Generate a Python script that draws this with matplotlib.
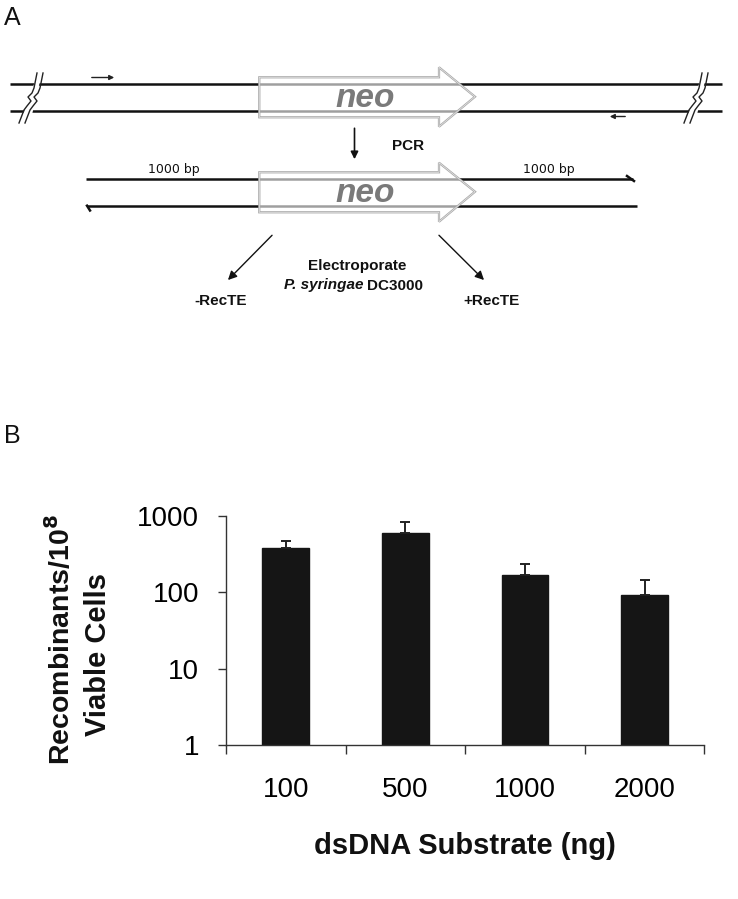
import matplotlib
matplotlib.use("Agg")
import matplotlib.pyplot as plt
from matplotlib.patches import Polygon
import numpy as np

# ---------------- data ----------------
substrate_labels = ["100", "500", "1000", "2000"]
recombinants = [374, 599, 166, 92]
recombinants_err = [93, 228, 67, 52]
y_ticks = [1, 10, 100, 1000]
y_tick_labels = ["1", "10", "100", "1000"]

W, H = 738, 899
fig = plt.figure(figsize=(W / 100, H / 100), dpi=100)
FONT = "Liberation Sans"

# ---------------- panel A: schematic (pixel coordinates) ----------------
ax0 = fig.add_axes([0, 0, 1, 1], zorder=0)
ax0.set_xlim(0, W)
ax0.set_ylim(H, 0)
ax0.axis("off")

strand_lw = 1.8
for y in (84, 111):
    ax0.plot([10, 722], [y, y], color="#111111", lw=strand_lw, solid_capstyle="butt", zorder=2)


def break_mark(x0):
    for dx in (0, 6):
        xs = np.array([9, 6, 4, 0, 3, -1, -4, -9]) + x0 + dx
        ys = np.array([73, 88, 93, 97, 101, 106, 110, 123])
        ax0.plot(xs, ys, color="#222222", lw=1.0, zorder=3)
    poly = Polygon([[x0 + 10, 73], [x0 + 14, 73], [x0 + 2, 123], [x0 - 8, 123]],
                   closed=True, facecolor="white", edgecolor="none", zorder=2.5)
    ax0.add_patch(poly)


break_mark(28)
break_mark(693)

ax0.annotate("", xy=(117, 77.5), xytext=(89, 77.5),
             arrowprops=dict(arrowstyle="-|>", lw=1.0, color="#222222", mutation_scale=7))
ax0.annotate("", xy=(607, 116.5), xytext=(628, 116.5),
             arrowprops=dict(arrowstyle="-|>", lw=1.0, color="#222222", mutation_scale=7))


def neo_arrow(top, bottom, head_top, tip_y, head_bottom):
    pts = [[259.3, top], [439, top], [439, head_top], [475, tip_y],
           [439, head_bottom], [439, bottom], [259.3, bottom]]
    ax0.add_patch(Polygon(pts, closed=True, facecolor="white", alpha=0.6,
                          edgecolor="none", zorder=4))
    ax0.add_patch(Polygon(pts, closed=True, facecolor="none",
                          edgecolor="#a8a8a8", lw=1.6, zorder=5))
    ax0.add_patch(Polygon(pts, closed=True, facecolor="none",
                          edgecolor="#e8e8e8", lw=0.5, zorder=5.1))
    ax0.text(365, (top + bottom) / 2 + 1, "neo", ha="center", va="center",
             fontsize=24, fontweight="bold", style="italic", color="#7a7a7a",
             family=FONT, zorder=6)


neo_arrow(77.3, 117.3, 67.3, 96.7, 126.7)

ax0.annotate("", xy=(354.5, 162), xytext=(354.5, 125.5),
             arrowprops=dict(arrowstyle="-|>", lw=1.2, color="#111111", mutation_scale=11))
ax0.text(408, 146, "PCR", ha="center", va="center", fontsize=11,
         fontweight="bold", family=FONT, color="#111111")

ax0.plot([86, 633], [178.5, 178.5], color="#111111", lw=strand_lw, solid_capstyle="butt", zorder=2)
ax0.plot([87, 637], [205.7, 205.7], color="#111111", lw=strand_lw, solid_capstyle="butt", zorder=2)
ax0.plot([627, 634], [176, 181], color="#111111", lw=strand_lw, zorder=2)
ax0.plot([87, 90], [205.7, 210.5], color="#111111", lw=strand_lw, zorder=2)
neo_arrow(172.3, 212.3, 162.7, 191.7, 221.7)
ax0.text(174, 170, "1000 bp", ha="center", va="center", fontsize=9,
         family="DejaVu Sans", color="#111111")
ax0.text(549, 170, "1000 bp", ha="center", va="center", fontsize=9,
         family="DejaVu Sans", color="#111111")

ax0.annotate("", xy=(226, 282), xytext=(274, 233.3),
             arrowprops=dict(arrowstyle="-|>", lw=1.0, color="#111111", mutation_scale=13))
ax0.annotate("", xy=(486, 282), xytext=(437, 233.3),
             arrowprops=dict(arrowstyle="-|>", lw=1.0, color="#111111", mutation_scale=13))
ax0.text(357, 265.7, "Electroporate", ha="center", va="center", fontsize=11,
         fontweight="bold", family=FONT, color="#111111")
ax0.text(363, 285.5, "P. syringae", ha="right", va="center", fontsize=11,
         fontweight="bold", style="italic", family=FONT, color="#111111")
ax0.text(367, 285.5, "DC3000", ha="left", va="center", fontsize=11,
         fontweight="bold", family=FONT, color="#111111")
ax0.text(221, 301, "-RecTE", ha="center", va="center", fontsize=11,
         fontweight="bold", family=FONT, color="#111111")
ax0.text(491, 301, "+RecTE", ha="center", va="center", fontsize=11,
         fontweight="bold", family=FONT, color="#111111")

ax0.text(4, 18, "A", ha="left", va="center", fontsize=18, family=FONT, color="#111111")
ax0.text(4, 436, "B", ha="left", va="center", fontsize=18, family=FONT, color="#111111")

# ---------------- panel B: bar chart ----------------
left, right, bottom, top = 226, 704.3, 745, 515.7
ax = fig.add_axes([left / W, 1 - bottom / H, (right - left) / W, (bottom - top) / H], zorder=1)
ax.patch.set_alpha(0)
x = np.arange(len(substrate_labels))
ax.bar(x, recombinants, width=0.39, color="#151515", edgecolor="#151515", zorder=2)
ax.errorbar(x, recombinants, yerr=[np.zeros(len(x)), recombinants_err], fmt="none",
            ecolor="#222222", elinewidth=1.4, capsize=3.6, capthick=1.4, zorder=3)
ax.set_yscale("log")
ax.set_ylim(1, 1000)
ax.set_xlim(-0.5, len(x) - 0.5)
ax.set_yticks(y_ticks)
ax.set_yticklabels(y_tick_labels, family=FONT, fontsize=20)
ax.yaxis.set_minor_locator(matplotlib.ticker.NullLocator())
ax.set_xticks(np.arange(len(x) + 1) - 0.5)
ax.set_xticklabels([])
ax.set_xticks(x, minor=True)
ax.set_xticklabels(substrate_labels, minor=True, family=FONT, fontsize=20)
ax.tick_params(axis="x", which="major", direction="out", length=6.5, width=1.0, color="#333333")
ax.tick_params(axis="x", which="minor", length=0, pad=23)
ax.tick_params(axis="y", which="major", direction="out", length=5.8, width=1.0,
               color="#333333", pad=13.5)
for s in ("top", "right"):
    ax.spines[s].set_visible(False)
for s in ("left", "bottom"):
    ax.spines[s].set_color("#333333")
    ax.spines[s].set_linewidth(1.0)

fig.text(465 / W, 1 - 846 / H, "dsDNA Substrate (ng)", ha="center", va="center",
         fontsize=21, fontweight="bold", family=FONT, color="#111111")
fig.text(61 / W, 1 - 640 / H, r"Recombinants/10$^\mathbf{8}$", ha="center", va="center",
         rotation=90, fontsize=20.5, fontweight="bold", family=FONT, color="#111111")
fig.text(98 / W, 1 - 655 / H, "Viable Cells", ha="center", va="center",
         rotation=90, fontsize=21, fontweight="bold", family=FONT, color="#111111")

fig.savefig("out.png", dpi=100, facecolor="white")
